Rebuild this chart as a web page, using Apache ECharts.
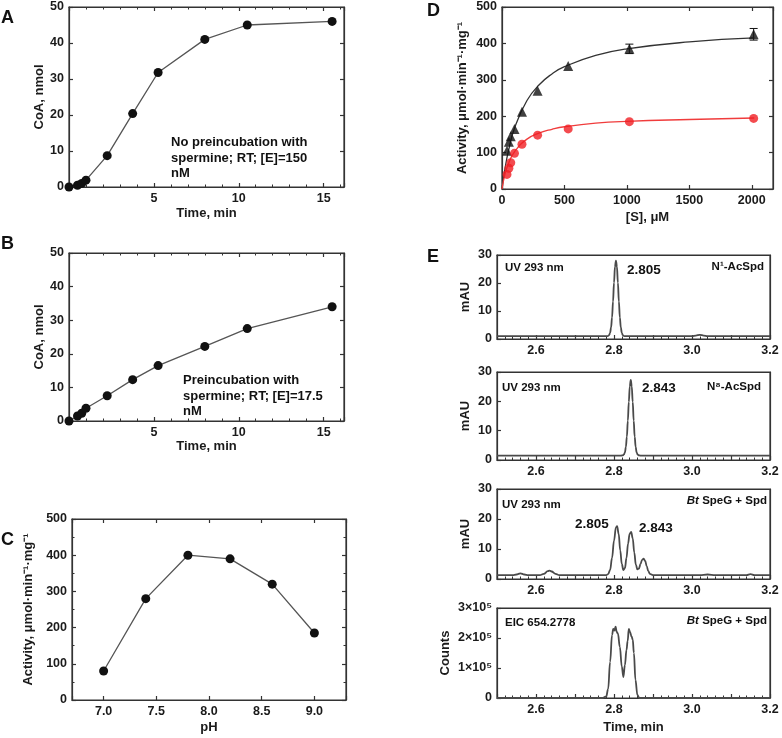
<!DOCTYPE html>
<html>
<head>
<meta charset="utf-8">
<title>SpeG activity panels</title>
<script src="https://cdn.jsdelivr.net/npm/echarts@6/dist/echarts.min.js"></script>
<style>
  html, body { margin: 0; padding: 0; background: #fff; }
  #chart { width: 782px; height: 738px; }
</style>
</head>
<body>
<div id="chart"></div>
<script>
// A / B: CoA release over time
var abTime = [0, 0.5, 0.75, 1, 2.25, 3.75, 5.25, 8, 10.5, 15.5];
var aCoA = [0, 0.5, 1.0, 1.9, 8.7, 20.4, 31.8, 41, 45, 46];
var bCoA = [0, 1.5, 2.3, 3.8, 7.5, 12.3, 16.5, 22.2, 27.5, 34];

// C: pH profile
var cPH = [7.0, 7.4, 7.8, 8.2, 8.6, 9.0];
var cActivity = [80, 280, 400, 390, 320, 185];

// D: substrate saturation
var dConc = [40, 55, 70, 100, 160, 285, 530, 1020, 2015];
var dBlack = [105, 130, 145, 165, 212, 270, 338, 385, 425];
var dBlackErr = [0, 0, 0, 0, 0, 0, 0, 13, 16];
var dRed = [40, 57, 72, 98, 123, 148, 165, 185, 194];
var dFitConc = [0, 25, 50, 100, 200, 300, 400, 500, 750, 1000, 1500, 2020];
var dFitBlack = [0, 58, 102, 167, 243, 287, 316, 336, 367, 385, 404, 415];
var dFitRed = [0, 42, 68, 102, 137, 154, 164, 171, 181, 186, 191, 195];

// E: chromatograms
var e1Time = [2.5, 2.6, 2.7, 2.78, 2.785, 2.7875, 2.79, 2.7925, 2.795, 2.7975, 2.8, 2.8025, 2.805, 2.8075, 2.81, 2.8125, 2.815, 2.8175, 2.82, 2.8225, 2.825, 2.83, 2.9, 3.0, 3.01, 3.02, 3.03, 3.04, 3.1, 3.2];
var e1Mau = [1.0, 1.0, 1.0, 1.0, 1.1, 1.4, 2.2, 4.1, 7.7, 13.4, 20.1, 25.8, 28.0, 25.8, 20.1, 13.4, 7.7, 4.1, 2.2, 1.4, 1.1, 1.0, 1.0, 1.0, 1.2, 1.5, 1.2, 1.0, 1.0, 1.0];
var e2Time = [2.5, 2.6, 2.7, 2.8, 2.818, 2.823, 2.8255, 2.828, 2.8305, 2.833, 2.8355, 2.838, 2.8405, 2.843, 2.8455, 2.848, 2.8505, 2.853, 2.8555, 2.858, 2.8605, 2.863, 2.868, 2.9, 3.0, 3.1, 3.2];
var e2Mau = [1.5, 1.5, 1.5, 1.5, 1.5, 1.6, 1.9, 2.6, 4.5, 8.0, 13.4, 19.8, 25.1, 27.3, 25.1, 19.8, 13.4, 8.0, 4.5, 2.6, 1.9, 1.6, 1.5, 1.5, 1.5, 1.5, 1.5];
var e3Time = [2.5, 2.54, 2.55, 2.56, 2.57, 2.58, 2.61, 2.62, 2.63, 2.635, 2.64, 2.65, 2.66, 2.78, 2.785, 2.79, 2.795, 2.8, 2.805, 2.808, 2.812, 2.816, 2.82, 2.824, 2.828, 2.832, 2.836, 2.84, 2.844, 2.848, 2.852, 2.856, 2.86, 2.864, 2.868, 2.872, 2.876, 2.88, 2.884, 2.888, 2.892, 2.9, 3.02, 3.04, 3.06, 3.14, 3.15, 3.16, 3.2];
var e3Mau = [1.3, 1.3, 1.5, 1.9, 1.5, 1.3, 1.3, 1.7, 2.6, 2.8, 2.5, 1.7, 1.3, 1.3, 1.6, 3.0, 7.0, 12.8, 17.2, 17.6, 15.0, 9.5, 5.0, 3.0, 3.6, 7.0, 11.8, 15.0, 15.7, 13.5, 8.8, 4.8, 3.2, 3.5, 5.0, 6.4, 6.8, 6.0, 4.2, 2.6, 1.7, 1.3, 1.3, 1.5, 1.3, 1.3, 1.6, 1.3, 1.3];
var e4Time = [2.5, 2.77, 2.78, 2.785, 2.79, 2.795, 2.798, 2.801, 2.804, 2.807, 2.81, 2.815, 2.82, 2.824, 2.828, 2.832, 2.835, 2.838, 2.841, 2.845, 2.848, 2.851, 2.855, 2.86, 2.865, 3.2];
var e4Counts = [0, 0, 5000, 30000, 120000, 210000, 230000, 225000, 238000, 220000, 215000, 170000, 105000, 70000, 110000, 160000, 190000, 230000, 220000, 205000, 195000, 150000, 60000, 10000, 0, 0];

var FONT = '"Liberation Sans", Arial, sans-serif';
var INK = '#1a1a1a';
var FRAME = '#333';

function pairs(xs, ys) {
    return xs.map(function (x, i) { return [x, ys[i]]; });
}

function labelStyle(extra) {
    return Object.assign({fontFamily: FONT, fontWeight: 'bold', fontSize: 12.5, color: INK}, extra || {});
}
var nameStyle = {fontFamily: FONT, fontWeight: 'bold', fontSize: 13, color: INK};

// builds the labelled axis plus a mirror axis (ticks only) for a grid
function axisPair(dim, g, c) {
    var tick = {show: true, inside: true, length: 4, lineStyle: {color: FRAME, width: 1.2}};
    var minor = {show: !!c.minor, splitNumber: c.minor || 5, length: 2.5, lineStyle: {color: FRAME, width: 1}};
    var base = {
        type: 'value', gridIndex: g, min: c.min, max: c.max,
        axisLine: {show: true, onZero: false, lineStyle: {color: FRAME, width: 1.2}},
        splitLine: {show: false}
    };
    if (c.interval) base.interval = c.interval;
    if (c.split) base.splitNumber = c.split;
    var main = Object.assign({}, base, {
        position: dim === 'x' ? 'bottom' : 'left',
        axisTick: tick, minorTick: minor,
        axisLabel: labelStyle({margin: 5, showMaxLabel: c.showMax !== false, formatter: c.fmt}),
        name: c.name || '', nameLocation: 'middle', nameGap: c.gap || 20,
        nameTextStyle: Object.assign({}, nameStyle, c.nameExtra || {})
    });
    var mirror = Object.assign({}, base, {
        position: dim === 'x' ? 'top' : 'right',
        axisTick: c.mirror ? tick : {show: false},
        minorTick: c.mirror ? minor : {show: false},
        axisLabel: {show: false}
    });
    return [main, mirror];
}

var grids = [
    {left: 69, top: 7, width: 275, height: 180},    // A
    {left: 69, top: 253, width: 275, height: 168},  // B
    {left: 72, top: 519, width: 274, height: 181},  // C
    {left: 502, top: 7, width: 271, height: 182},   // D
    {left: 497, top: 255, width: 273, height: 84},  // E1
    {left: 497, top: 372, width: 273, height: 88},  // E2
    {left: 497, top: 489, width: 273, height: 90},  // E3
    {left: 497, top: 608, width: 273, height: 90}   // E4
].map(function (g) {
    return Object.assign(g, {show: true, borderColor: FRAME, borderWidth: 1.2, outerBoundsMode: 'none', containLabel: false});
});

var timeFmt = function (v) { return (v > 0 && v % 5 === 0) ? String(v) : ''; };
var rtFmt = function (v) { return Math.round(v * 10) % 2 === 0 ? v.toFixed(1) : ''; };
var phFmt = function (v) { return Math.abs(v * 2 - Math.round(v * 2)) < 1e-6 ? v.toFixed(1) : ''; };
var concFmt = function (v) { return v % 500 === 0 ? String(v) : ''; };
var countFmt = function (v) { return v === 0 ? '0' : Math.round(v / 1e5) + '×10⁵'; };

var xAxes = [].concat(
    axisPair('x', 0, {min: 0, max: 16.2, interval: 5, minor: 5, fmt: timeFmt, showMax: false, mirror: true, name: 'Time, min', gap: 20}),
    axisPair('x', 1, {min: 0, max: 16.2, interval: 5, minor: 5, fmt: timeFmt, showMax: false, mirror: true, name: 'Time, min', gap: 19}),
    axisPair('x', 2, {min: 6.7, max: 9.3, split: 5, fmt: phFmt, mirror: true, name: 'pH', gap: 21}),
    axisPair('x', 3, {min: 0, max: 2170, interval: 500, fmt: concFmt, showMax: false, mirror: true, name: '[S], μM', gap: 22, nameExtra: {padding: [0, 0, 0, 20]}}),
    axisPair('x', 4, {min: 2.5, max: 3.2, interval: 0.1, minor: 5, fmt: rtFmt}),
    axisPair('x', 5, {min: 2.5, max: 3.2, interval: 0.1, minor: 5, fmt: rtFmt}),
    axisPair('x', 6, {min: 2.5, max: 3.2, interval: 0.1, minor: 5, fmt: rtFmt}),
    axisPair('x', 7, {min: 2.5, max: 3.2, interval: 0.1, minor: 5, fmt: rtFmt, name: 'Time, min', gap: 23})
);

var yAxes = [].concat(
    axisPair('y', 0, {min: 0, max: 50, interval: 10, mirror: true, name: 'CoA, nmol', gap: 22}),
    axisPair('y', 1, {min: 0, max: 50, interval: 10, mirror: true, name: 'CoA, nmol', gap: 21}),
    axisPair('y', 2, {min: 0, max: 500, interval: 100, minor: 2, mirror: true, name: 'Activity, μmol·min⁻¹·mg⁻¹', gap: 37}),
    axisPair('y', 3, {min: 0, max: 500, interval: 100, mirror: true, name: 'Activity, μmol·min⁻¹·mg⁻¹', gap: 33}),
    axisPair('y', 4, {min: 0, max: 30, interval: 10, name: 'mAU', gap: 25}),
    axisPair('y', 5, {min: 0, max: 30, interval: 10, name: 'mAU', gap: 25}),
    axisPair('y', 6, {min: 0, max: 30, interval: 10, name: 'mAU', gap: 25}),
    axisPair('y', 7, {min: 0, max: 300000, interval: 100000, fmt: countFmt, name: 'Counts', gap: 45})
);

function connected(g, xs, ys) {
    return {
        type: 'line', xAxisIndex: 2 * g, yAxisIndex: 2 * g, data: pairs(xs, ys),
        symbol: 'circle', symbolSize: 9, itemStyle: {color: '#111'},
        lineStyle: {color: '#555', width: 1.3}
    };
}

function trace(g, xs, ys) {
    return {
        type: 'line', xAxisIndex: 2 * g, yAxisIndex: 2 * g, data: pairs(xs, ys),
        symbol: 'none', smooth: 0.4, smoothMonotone: 'x',
        lineStyle: {color: '#4a4a4a', width: 1.8}
    };
}

var errData = [];
dConc.forEach(function (c, i) {
    if (dBlackErr[i] > 0) errData.push([c, dBlack[i] - dBlackErr[i], dBlack[i] + dBlackErr[i]]);
});

var series = [
    connected(0, abTime, aCoA),
    connected(1, abTime, bCoA),
    connected(2, cPH, cActivity),
    {type: 'line', xAxisIndex: 6, yAxisIndex: 6, data: pairs(dFitConc, dFitBlack), symbol: 'none', smooth: 0.5,
        lineStyle: {color: '#333', width: 1.3}},
    {type: 'line', xAxisIndex: 6, yAxisIndex: 6, data: pairs(dFitConc, dFitRed), symbol: 'none', smooth: 0.5,
        lineStyle: {color: '#f03c3c', width: 1.3}},
    {type: 'custom', xAxisIndex: 6, yAxisIndex: 6, data: errData, z: 3,
        renderItem: function (params, api) {
            var lo = api.coord([api.value(0), api.value(1)]);
            var hi = api.coord([api.value(0), api.value(2)]);
            var st = {stroke: '#111', lineWidth: 1};
            return {type: 'group', children: [
                {type: 'line', shape: {x1: lo[0], y1: lo[1], x2: hi[0], y2: hi[1]}, style: st},
                {type: 'line', shape: {x1: hi[0] - 4, y1: hi[1], x2: hi[0] + 4, y2: hi[1]}, style: st},
                {type: 'line', shape: {x1: lo[0] - 4, y1: lo[1], x2: lo[0] + 4, y2: lo[1]}, style: st}
            ]};
        }},
    {type: 'scatter', xAxisIndex: 6, yAxisIndex: 6, data: pairs(dConc, dBlack), symbol: 'triangle', symbolSize: 10,
        itemStyle: {color: '#111'}, z: 4},
    {type: 'scatter', xAxisIndex: 6, yAxisIndex: 6, data: pairs(dConc, dRed), symbol: 'circle', symbolSize: 9,
        itemStyle: {color: '#f01e23'}, z: 4},
    trace(4, e1Time, e1Mau),
    trace(5, e2Time, e2Mau),
    trace(6, e3Time, e3Mau),
    trace(7, e4Time, e4Counts)
];

function txt(left, top, text, size, extra) {
    var el = {type: 'text', top: top, style: Object.assign({
        text: text, fontFamily: FONT, fontWeight: 'bold', fontSize: size, fill: '#111'
    }, extra || {})};
    if (typeof left === 'string') el.right = parseFloat(left); else el.left = left;
    return el;
}
var italicRich = {i: {fontFamily: FONT, fontWeight: 'bold', fontStyle: 'italic', fontSize: 11.5, fill: '#111'}};

var graphic = [
    txt(1, 9, 'A', 18), txt(1, 235, 'B', 18), txt(1, 531, 'C', 18),
    txt(427, 2, 'D', 18), txt(427, 248, 'E', 18),
    txt(171, 135, 'No preincubation with\nspermine; RT; [E]=150\nnM', 13, {lineHeight: 15.5}),
    txt(183, 373, 'Preincubation with\nspermine; RT; [E]=17.5\nnM', 13, {lineHeight: 15.5}),
    txt(505, 262, 'UV 293 nm', 11.5), txt(627, 263, '2.805', 13.5), txt('18', 261, 'N¹-AcSpd', 11.5),
    txt(502, 382, 'UV 293 nm', 11.5), txt(642, 381, '2.843', 13.5), txt('21', 381, 'N⁸-AcSpd', 11.5),
    txt(502, 499, 'UV 293 nm', 11.5), txt('15', 495, '{i|Bt} SpeG + Spd', 11.5, {rich: italicRich}),
    txt(575, 517, '2.805', 13.5), txt(639, 521, '2.843', 13.5),
    txt(505, 617, 'EIC 654.2778', 11.5), txt('15', 615, '{i|Bt} SpeG + Spd', 11.5, {rich: italicRich})
];

var chart = echarts.init(document.getElementById('chart'), null, {renderer: 'canvas'});
chart.setOption({
    animation: false,
    backgroundColor: '#fff',
    grid: grids,
    xAxis: xAxes,
    yAxis: yAxes,
    series: series,
    graphic: graphic
});
</script>
</body>
</html>
